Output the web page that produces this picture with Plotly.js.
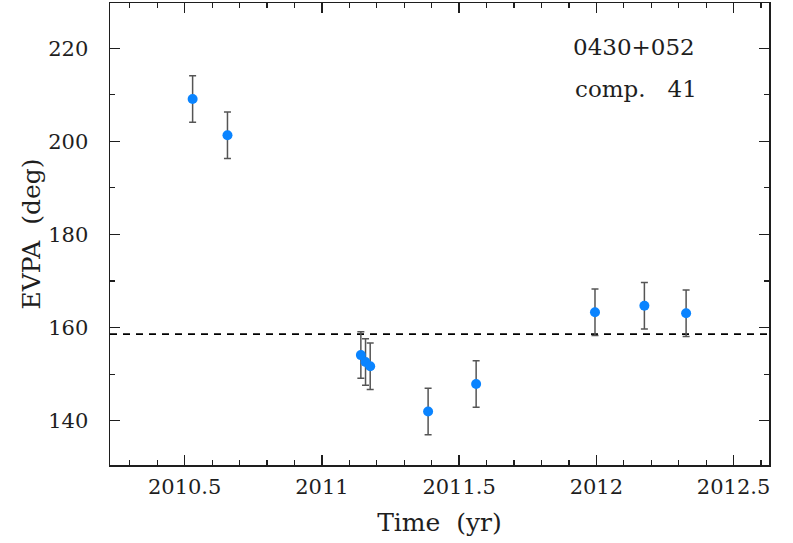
<!DOCTYPE html>
<html>
<head>
<meta charset="utf-8">
<script src="https://cdn.plot.ly/plotly-3.0.1.min.js"></script>
<style>
  html, body { margin: 0; padding: 0; background: #fff; }
  #chart { width: 793px; height: 543px; }
</style>
</head>
<body>
<div id="chart"></div>
<script>
// EVPA of component 41 in 0430+052 over time
const epochs = [2010.529, 2010.656, 2011.142, 2011.159, 2011.176, 2011.387, 2011.562, 2011.995, 2012.175, 2012.327];
const evpa   = [209.1, 201.3, 154.1, 152.6, 151.7, 142.0, 147.9, 163.3, 164.7, 163.1];
const evpaErr = [5, 5, 5, 5, 5, 5, 5, 5, 5, 5];
const meanEvpa = 158.6;

const xTickVals = [2010.5, 2011, 2011.5, 2012, 2012.5];
const xTickText = ['2010.5', '2011', '2011.5', '2012', '2012.5'];
const yTickVals = [140, 160, 180, 200, 220];
const yTickText = ['140', '160', '180', '200', '220'];

const sourceName = '0430+052';
const compLabel = 'comp.\u00a0\u00a0\u00a041';

const ink = '#1e1e1e';
const serif = '"DejaVu Serif", "Liberation Serif", serif';

const trace = {
  type: 'scatter',
  mode: 'markers',
  x: epochs,
  y: evpa,
  error_y: {
    type: 'data',
    array: evpaErr,
    visible: true,
    color: '#555555',
    thickness: 1.5,
    width: 3.5
  },
  marker: { color: '#0a84ff', size: 10 },
  hoverinfo: 'x+y'
};

const axisCommon = {
  showline: true,
  linecolor: ink,
  linewidth: 1.5,
  mirror: 'allticks',
  ticks: 'inside',
  ticklen: 10,
  tickwidth: 1.3,
  tickcolor: ink,
  showgrid: false,
  zeroline: false,
  tickmode: 'array',
  tickfont: { family: serif, size: 21, color: ink }
};

const layout = {
  width: 793,
  height: 543,
  margin: { l: 110, r: 24, t: 3, b: 78 },
  paper_bgcolor: '#ffffff',
  plot_bgcolor: '#ffffff',
  showlegend: false,
  xaxis: Object.assign({}, axisCommon, {
    range: [2010.228, 2012.629],
    tickvals: xTickVals,
    ticktext: xTickText,
    ticklabelstandoff: 2,
    minor: { dtick: 0.1, tick0: 2010, ticks: 'inside', ticklen: 5, tickwidth: 1.2, tickcolor: ink },
    title: { text: 'Time\u00a0 (yr)', font: { family: serif, size: 25, color: ink }, standoff: 16 }
  }),
  yaxis: Object.assign({}, axisCommon, {
    range: [130.5, 229.7],
    tickvals: yTickVals,
    ticktext: yTickText,
    ticklabelstandoff: 16,
    minor: { dtick: 10, tick0: 0, ticks: 'inside', ticklen: 5, tickwidth: 1.2, tickcolor: ink },
    title: { text: 'EVPA\u00a0 (deg)', font: { family: serif, size: 25, color: ink }, standoff: 0 }
  }),
  shapes: [{
    type: 'line',
    xref: 'paper', x0: 0, x1: 1,
    yref: 'y', y0: meanEvpa, y1: meanEvpa,
    line: { color: '#000000', width: 1.6, dash: '7px,6px' },
    layer: 'below'
  }],
  annotations: [
    {
      text: sourceName, xref: 'paper', yref: 'paper', x: 0.7, y: 0.905,
      xanchor: 'left', yanchor: 'middle', showarrow: false,
      font: { family: serif, size: 23, color: ink }
    },
    {
      text: compLabel, xref: 'paper', yref: 'paper', x: 0.702, y: 0.814,
      xanchor: 'left', yanchor: 'middle', showarrow: false,
      font: { family: serif, size: 23, color: ink }
    }
  ]
};

Plotly.newPlot('chart', [trace], layout, { displayModeBar: false, staticPlot: true });
</script>
</body>
</html>
